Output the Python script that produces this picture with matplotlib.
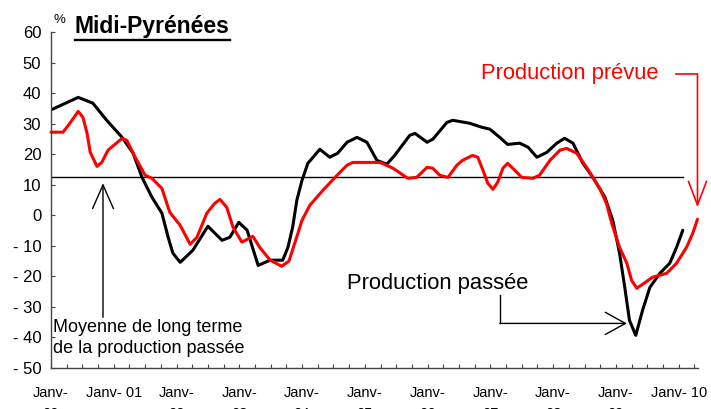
import matplotlib
matplotlib.use('Agg')
import matplotlib.pyplot as plt
from matplotlib.lines import Line2D
from matplotlib.patches import ArrowStyle

plt.rcParams['font.family'] = ['Liberation Sans', 'DejaVu Sans']

# ---- data (months since January 2000, balance of opinion in %) ----
past_months = [0, 5.2, 8.0, 10.7, 13.6, 15.7, 17.4, 19.3, 21.2, 22.4, 23.3, 24.7, 27.1, 30.0,
               32.7, 34.2, 35.9, 37.5, 39.6, 41.9, 44.3, 45.3, 46.2, 47.0, 48.0, 49.1, 51.4,
               53.3, 54.8, 56.6, 58.5, 60.4, 62.3, 64.2, 65.7, 68.6, 69.6, 71.9, 73.0, 75.7,
               76.8, 80.1, 82.4, 83.9, 85.8, 87.3, 89.6, 91.2, 92.9, 94.8, 96.7, 98.2, 99.8,
               101.7, 103.6, 105.9, 107.4, 108.7, 109.7, 110.6, 111.8, 113.1, 114.5, 116.4,
               118.3, 119.6, 120.8]
past_values = [34.5, 38.6, 36.7, 31.0, 25.5, 20.3, 12.4, 5.9, 0.7, -7.2, -12.4, -15.4, -11.5, -3.6,
               -8.2, -7.2, -2.3, -4.9, -16.4, -14.7, -14.7, -10.5, -3.9, 4.9, 11.5, 17.0, 21.6,
               19.0, 20.3, 23.9, 25.5, 23.9, 18.0, 16.7, 19.6, 26.2, 26.8, 23.9, 24.9, 30.4,
               31.1, 30.1, 28.8, 28.2, 25.5, 23.2, 23.6, 22.3, 19.0, 20.6, 23.6, 25.2, 23.6,
               17.0, 12.4, 5.9, -1.6, -12.4, -23.6, -34.4, -39.3, -31.1, -23.6, -19.0,
               -15.7, -10.5, -4.9]

planned_months = [0, 2.3, 3.6, 5.2, 6.1, 6.9, 7.5, 8.8, 9.7, 10.9, 13.6, 14.5, 16.1, 18.0, 19.3,
                  21.2, 22.7, 24.7, 26.6, 27.9, 29.8, 31.3, 32.3, 33.6, 34.8, 36.5, 38.6, 39.9,
                  41.9, 44.1, 45.5, 47.0, 48.0, 49.5, 52.0, 54.7, 56.6, 57.7, 62.9, 65.4, 68.2,
                  69.9, 71.9, 73.0, 74.3, 75.9, 77.6, 78.7, 80.6, 81.6, 82.6, 83.5, 84.5, 85.4,
                  86.4, 87.3, 88.7, 90.0, 92.1, 93.4, 95.4, 97.3, 98.6, 100.5, 102.4, 103.6,
                  104.9, 106.2, 107.2, 108.7, 110.1, 111.0, 112.0, 115.0, 117.7, 119.6, 121.5,
                  122.7, 123.6]
planned_values = [27.2, 27.2, 30.1, 34.0, 32.1, 26.8, 20.6, 16.0, 17.3, 21.3, 25.2, 24.5, 19.0,
                  13.1, 12.1, 8.8, 1.0, -3.3, -9.5, -7.2, 0.7, 3.9, 5.2, 2.6, -3.9, -8.8, -6.9,
                  -10.5, -14.7, -16.7, -15.0, -7.0, -1.6, 3.3, 8.2, 13.1, 16.4, 17.3, 17.3, 15.4,
                  12.1, 12.4, 15.7, 15.4, 13.1, 12.4, 16.4, 18.0, 19.6, 19.0, 14.7, 10.5, 8.5,
                  10.8, 15.4, 17.0, 14.7, 12.4, 12.1, 13.1, 18.0, 21.3, 21.9, 20.3, 15.7, 12.4,
                  8.8, 3.9, -2.6, -10.5, -15.7, -21.3, -23.9, -20.3, -19.0, -15.7, -10.5,
                  -5.9, -1.3]

long_term_mean = 12.5
mean_span = [0, 120.8]

year_ticks = list(range(0, 121, 12))
year_labels = ["Janv-\n00", "Janv- 01", "Janv-\n02", "Janv-\n03", "Janv-\n04", "Janv-\n05",
               "Janv-\n06", "Janv-\n07", "Janv-\n08", "Janv-\n09", "Janv- 10"]
y_ticks = list(range(-50, 61, 10))
y_labels = [str(v) if v >= 0 else "- %d" % (-v) for v in y_ticks]

# ---- figure ----
W, H = 711, 409
fig = plt.figure(figsize=(W / 100, H / 100), dpi=100)
ax = fig.add_axes([51 / W, 1 - 368 / H, (698 - 51) / W, (368 - 32) / H])

ax.plot(mean_span, [long_term_mean, long_term_mean], color='black', lw=1.0)
ax.plot(past_months, past_values, color='black', lw=2.2,
        solid_joinstyle='round', solid_capstyle='round')
ax.plot(planned_months, planned_values, color='#ff0000', lw=2.2,
        solid_joinstyle='round', solid_capstyle='round', clip_on=False)

ax.set_xlim(0, 123.7)
ax.set_ylim(-50, 60)
ax.set_yticks(y_ticks)
ax.set_yticklabels(y_labels, fontsize=12)
ax.set_xticks(year_ticks)
ax.set_xticklabels(year_labels, fontsize=10.5, linespacing=1.6)
ax.set_xticks(list(range(0, 124, 3)), minor=True)
ax.tick_params(axis='both', which='both', direction='in', length=3, width=0.8, color='#444444')
ax.tick_params(axis='y', pad=7)
ax.tick_params(axis='x', pad=13)
for s in ['top', 'right']:
    ax.spines[s].set_visible(False)
for s in ['left', 'bottom']:
    ax.spines[s].set_color('#444444')
    ax.spines[s].set_linewidth(1.0)

# title with underline
t = fig.text(75 / W, 1 - 33 / H, "Midi-Pyrénées", fontsize=16.5, fontweight='bold',
             ha='left', va='baseline')
fig.text(53 / W, 1 - 23 / H, "%", fontsize=9.5, ha='left', va='baseline')
fig.canvas.draw()
bb = t.get_window_extent()
fig.add_artist(Line2D([bb.x0 / W, bb.x1 / W], [1 - 39.5 / H, 1 - 39.5 / H],
                      color='black', lw=1.7, transform=fig.transFigure))

# Production prévue annotation
ax.text(82.2, 46.5, "Production prévue", color='#ff0000', fontsize=15.8,
        ha='left', va='center')
ax.plot([119.4, 123.6], [46.2, 46.2], color='#ff0000', lw=1.2, clip_on=False)
ax.annotate("", xy=(123.6, 2.6), xytext=(123.6, 46.2), annotation_clip=False,
            arrowprops=dict(arrowstyle=ArrowStyle('->', head_length=1.7, head_width=0.65),
                            mutation_scale=10, color='#ff0000', lw=1.2,
                            shrinkA=0, shrinkB=0))

# Production passée annotation
ax.text(56.6, -22.3, "Production passée", color='black', fontsize=15.8,
        ha='left', va='center')
ax.plot([85.8, 85.8], [-26.2, -35.4], color='black', lw=1.0)
ax.annotate("", xy=(110.1, -35.4), xytext=(85.8, -35.4), annotation_clip=False,
            arrowprops=dict(arrowstyle=ArrowStyle('->', head_length=1.45, head_width=0.8),
                            mutation_scale=10, color='black', lw=1.0,
                            shrinkA=0, shrinkB=0))

# Long-term mean annotation
ax.annotate("", xy=(9.94, 10.5), xytext=(9.94, -33.4),
            arrowprops=dict(arrowstyle=ArrowStyle('->', head_length=1.7, head_width=0.75),
                            mutation_scale=10, color='black', lw=1.0,
                            shrinkA=0, shrinkB=0))
ax.text(0.4, -40.3, "Moyenne de long terme\nde la production passée", color='black',
        fontsize=13, ha='left', va='center', linespacing=1.3)

fig.savefig('out.png', dpi=100)
